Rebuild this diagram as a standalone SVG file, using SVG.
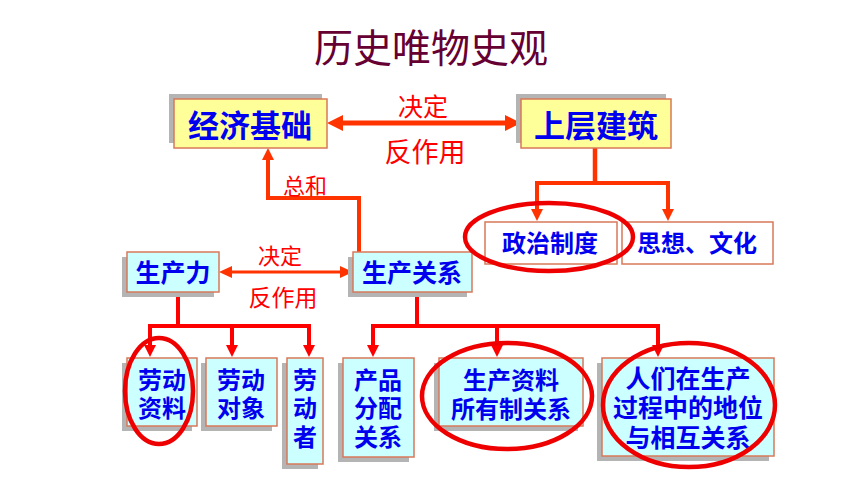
<svg xmlns="http://www.w3.org/2000/svg" width="860" height="484" viewBox="0 0 860 484">
<style>
  text { font-family: "Noto Sans CJK SC", "Noto Sans", sans-serif; dominant-baseline: central; text-anchor: middle; }
  .t { fill: #0000EE; font-weight: bold; }
  .lbl { fill: #FF0000; font-weight: normal; }
  .box { stroke: #D9785A; stroke-width: 1.5; }
  .yel { fill: #FFFF99; }
  .cya { fill: #CCFFFF; }
  .wht { fill: #FFFFFF; }
  .sh { fill: #B4B4B4; }
  .c1 { fill: none; stroke: #FF3300; stroke-linejoin: miter; }
  .c2 { fill: none; stroke: #FF0000; stroke-linejoin: miter; }
  .ring { fill: none; stroke: #EE0000; stroke-width: 4.5; }
</style>
<defs>
  <marker id="bigA" markerUnits="userSpaceOnUse" markerWidth="16" markerHeight="16" refX="6" refY="8" orient="auto-start-reverse">
    <path d="M0,0 L16,8 L0,16 z" fill="#FF3300"/>
  </marker>
  <marker id="midA" markerUnits="userSpaceOnUse" markerWidth="13" markerHeight="12" refX="5" refY="6" orient="auto-start-reverse">
    <path d="M0,0 L13,6 L0,12 z" fill="#FF3300"/>
  </marker>
  <marker id="dnO" markerUnits="userSpaceOnUse" markerWidth="12" markerHeight="12" refX="4" refY="6" orient="auto">
    <path d="M0,0 L12,6 L0,12 z" fill="#FF3300"/>
  </marker>
  <marker id="dnR" markerUnits="userSpaceOnUse" markerWidth="12" markerHeight="12" refX="4" refY="6" orient="auto">
    <path d="M0,0 L12,6 L0,12 z" fill="#FF0000"/>
  </marker>
</defs>

<rect width="860" height="484" fill="#FFFFFF"/>

<text id="title" x="431" y="45" font-size="39" fill="#660033">历史唯物史观</text>

<g id="connectors">
  <line class="c1" x1="337" y1="123" x2="511" y2="123" stroke-width="5" marker-start="url(#bigA)" marker-end="url(#bigA)"/>
  <polyline class="c1" points="359,252 359,198 268,198 268,156" stroke-width="4" marker-end="url(#dnO)"/>
  <polyline class="c1" points="595,148 595,183" stroke-width="4.5"/>
  <polyline class="c1" points="537,213 537,183 668,183 668,213" stroke-width="4"/>
  <line class="c1" x1="537" y1="200" x2="537" y2="213" stroke-width="4" marker-end="url(#dnO)"/>
  <line class="c1" x1="668" y1="200" x2="668" y2="213" stroke-width="4" marker-end="url(#dnO)"/>
  <line class="c1" x1="227" y1="272" x2="345" y2="272" stroke-width="3" marker-start="url(#midA)" marker-end="url(#midA)"/>

  <polyline class="c2" points="178,292 178,326" stroke-width="4"/>
  <polyline class="c2" points="150,349 150,326 309,326 309,349" stroke-width="4"/>
  <line class="c2" x1="150" y1="340" x2="150" y2="349" stroke-width="4" marker-end="url(#dnR)"/>
  <line class="c2" x1="232" y1="326" x2="232" y2="349" stroke-width="4" marker-end="url(#dnR)"/>
  <line class="c2" x1="309" y1="340" x2="309" y2="349" stroke-width="4" marker-end="url(#dnR)"/>

  <polyline class="c2" points="417,292 417,326" stroke-width="4"/>
  <polyline class="c2" points="373,349 373,326 658,326 658,349" stroke-width="4"/>
  <line class="c2" x1="373" y1="340" x2="373" y2="349" stroke-width="4" marker-end="url(#dnR)"/>
  <line class="c2" x1="497" y1="326" x2="497" y2="349" stroke-width="4" marker-end="url(#dnR)"/>
  <line class="c2" x1="658" y1="340" x2="658" y2="349" stroke-width="4" marker-end="url(#dnR)"/>

  <text class="lbl" x="423" y="105" font-size="25">决定</text>
  <text class="lbl" x="425" y="150" font-size="27">反作用</text>
  <text class="lbl" x="305" y="184" font-size="22">总和</text>
  <text class="lbl" x="280" y="254" font-size="22">决定</text>
  <text class="lbl" x="283" y="296" font-size="23">反作用</text>
</g>

<g id="jingjijichu">
  <rect class="sh" x="169" y="94" width="153" height="49"/>
  <rect class="box yel" x="174" y="99" width="153" height="49"/>
  <text class="t" x="250" y="123" font-size="31">经济基础</text>
</g>
<g id="shangcengjianzhu">
  <rect class="sh" x="516" y="94" width="150" height="49"/>
  <rect class="box yel" x="521" y="99" width="150" height="49"/>
  <text class="t" x="596" y="123" font-size="31">上层建筑</text>
</g>
<g id="zhengzhizhidu">
  <rect class="box wht" x="485" y="222" width="132" height="42"/>
  <text class="t" x="550" y="241" font-size="24">政治制度</text>
</g>
<g id="sixiangwenhua">
  <rect class="box wht" x="622" y="222" width="151" height="42"/>
  <text class="t" x="697" y="241" font-size="24">思想、文化</text>
</g>
<g id="shengchanli">
  <rect class="sh" x="122" y="257" width="92" height="40"/>
  <rect class="box cya" x="127" y="252" width="92" height="40"/>
  <text class="t" x="173" y="271" font-size="25">生产力</text>
</g>
<g id="shengchanguanxi">
  <rect class="sh" x="348" y="257" width="119" height="40"/>
  <rect class="box cya" x="353" y="252" width="119" height="40"/>
  <text class="t" x="412" y="271" font-size="25">生产关系</text>
</g>
<g id="laodongziliao">
  <rect class="sh" x="122" y="363" width="70" height="68"/>
  <rect class="box cya" x="127" y="358" width="70" height="68"/>
  <text class="t" x="162" y="378" font-size="24">劳动</text>
  <text class="t" x="162" y="406" font-size="24">资料</text>
</g>
<g id="laodongduixiang">
  <rect class="sh" x="201" y="363" width="71" height="68"/>
  <rect class="box cya" x="206" y="358" width="71" height="68"/>
  <text class="t" x="241" y="378" font-size="24">劳动</text>
  <text class="t" x="241" y="406" font-size="24">对象</text>
</g>
<g id="laodongzhe">
  <rect class="sh" x="282" y="363" width="36" height="106"/>
  <rect class="box cya" x="287" y="358" width="36" height="106"/>
  <text class="t" x="305" y="378" font-size="24">劳</text>
  <text class="t" x="305" y="406" font-size="24">动</text>
  <text class="t" x="305" y="435" font-size="24">者</text>
</g>
<g id="chanpinfenpei">
  <rect class="sh" x="338" y="363" width="71" height="99"/>
  <rect class="box cya" x="343" y="358" width="71" height="99"/>
  <text class="t" x="378" y="378" font-size="24">产品</text>
  <text class="t" x="378" y="406" font-size="24">分配</text>
  <text class="t" x="378" y="435" font-size="24">关系</text>
</g>
<g id="suoyouzhi">
  <rect class="sh" x="434" y="363" width="144" height="68"/>
  <rect class="box cya" x="439" y="358" width="144" height="68"/>
  <text class="t" x="511" y="378" font-size="24">生产资料</text>
  <text class="t" x="511" y="407" font-size="24">所有制关系</text>
</g>
<g id="diwei">
  <rect class="sh" x="597" y="363" width="172" height="98"/>
  <rect class="box cya" x="602" y="358" width="172" height="98"/>
  <text class="t" x="688" y="377" font-size="25">人们在生产</text>
  <text class="t" x="688" y="406" font-size="25">过程中的地位</text>
  <text class="t" x="688" y="436" font-size="25">与相互关系</text>
</g>

<g id="highlights">
  <ellipse class="ring" cx="549" cy="237" rx="84" ry="34"/>
  <ellipse class="ring" cx="159" cy="391" rx="34" ry="53"/>
  <ellipse class="ring" cx="507" cy="396" rx="85" ry="53"/>
  <ellipse class="ring" cx="689" cy="405" rx="86" ry="62"/>
</g>
</svg>
